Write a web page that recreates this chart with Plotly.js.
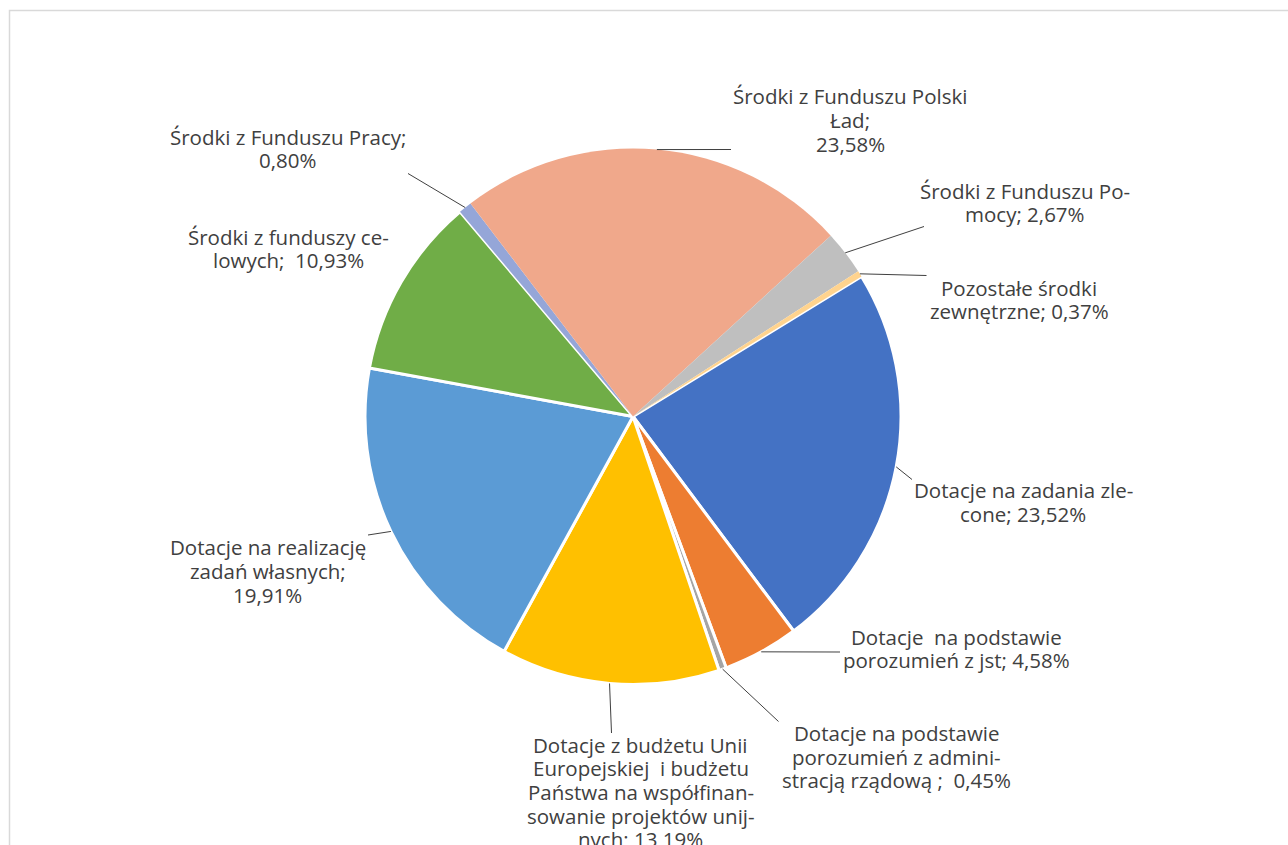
<!DOCTYPE html>
<html>
<head>
<meta charset="utf-8">
<script src="https://cdn.plot.ly/plotly-3.0.1.min.js"></script>
<style>html,body{margin:0;padding:0;background:#fff;}#chart{width:1288px;height:845px;}</style>
</head>
<body>
<div id="chart"></div>
<script>
// ---- data ----
const categories = [
  "Dotacje na zadania zlecone",
  "Dotacje na podstawie porozumień z jst",
  "Dotacje na podstawie porozumień z administracją rządową",
  "Dotacje z budżetu Unii Europejskiej i budżetu Państwa na współfinansowanie projektów unijnych",
  "Dotacje na realizację zadań własnych",
  "Środki z funduszy celowych",
  "Środki z Funduszu Pracy",
  "Środki z Funduszu Polski Ład",
  "Środki z Funduszu Pomocy",
  "Pozostałe środki zewnętrzne"
];
const shares = [23.52, 4.58, 0.45, 13.19, 19.91, 10.93, 0.80, 23.58, 2.67, 0.37];
// label text as printed in the chart ({v} = value)
const labelTemplates = [
  "Dotacje na zadania zle-<br>cone; {v}",
  "Dotacje \u00a0na podstawie<br>porozumień z jst; {v}",
  "Dotacje na podstawie<br>porozumień z admini-<br>stracją rządową ; \u00a0{v}",
  "Dotacje z budżetu Unii<br>Europejskiej \u00a0i budżetu<br>Państwa na współfinan-<br>sowanie projektów unij-<br>nych; {v}",
  "Dotacje na realizację<br>zadań własnych;<br>{v}",
  "Środki z funduszy ce-<br>lowych; \u00a0{v}",
  "Środki z Funduszu Pracy;<br>{v}",
  "Środki z Funduszu Polski<br>Ład;<br>{v}",
  "Środki z Funduszu Po-<br>mocy; {v}",
  "Pozostałe środki<br>zewnętrzne; {v}"
];

// ---- styles / layout ----
const W = 1288, H = 845;
const colors = ["#4472C4","#ED7D31","#A5A5A5","#FFC000","#5B9BD5","#70AD47","#95A6D8","#F0A88B","#BFBFBF","#FFD38E"];
const borderW = [3,3,3,3,3,3,0,0,0,0];
const CX = 633, CY = 416.5, R = 268, ROT = 58.5;
const FONT = {family: '"Open Sans", "Noto Sans", sans-serif', size: 20.5, color: '#404040'};
const LINE_H = 23.6;
// label centre (px) and leader-line end (px, null = no line)
const labelPos = [
  [1023.5, 502, [912, 479.5]],
  [956.5, 648.5, [840, 652]],
  [896, 756.5, [778.5, 721.5]],
  [640.5, 792, [611.5, 733]],
  [267.5, 571, [368, 535]],
  [288, 248.5, null],
  [287.5, 148.5, [408, 173.5]],
  [850, 120, [731, 149.5]],
  [1025, 202.5, [924, 226.5]],
  [1019, 299.5, [926.5, 275.5]]
];

const px2x = p => p / W;
const px2y = p => 1 - p / H;
const fmt = v => v.toFixed(2).replace('.', ',') + '%';

const total = shares.reduce((a, b) => a + b, 0);
let cum = 0;
const annotations = [];
const shapes = [];
shares.forEach((v, i) => {
  const mid = (ROT + (cum + v / 2) / total * 360) * Math.PI / 180;
  cum += v;
  const ax = CX + R * Math.sin(mid);
  const ay = CY - R * Math.cos(mid);
  const lp = labelPos[i];
  const lines = labelTemplates[i].replace('{v}', fmt(v)).split('<br>');
  const n = lines.length;
  lines.forEach((ln, k) => {
    annotations.push({
      xref: 'paper', yref: 'paper', x: px2x(lp[0]), y: px2y(lp[1] + (k - (n - 1) / 2) * LINE_H),
      xanchor: 'center', yanchor: 'middle', align: 'center', showarrow: false,
      text: ln, font: FONT
    });
  });
  if (lp[2]) {
    shapes.push({
      type: 'line', xref: 'paper', yref: 'paper',
      x0: px2x(ax), y0: px2y(ay), x1: px2x(lp[2][0]), y1: px2y(lp[2][1]),
      line: {color: '#404040', width: 1}
    });
  }
});
// chart-area frame
shapes.push({type: 'rect', xref: 'paper', yref: 'paper', layer: 'below',
  x0: px2x(9.5), y0: -0.2, x1: 1.2, y1: px2y(10.5),
  line: {color: '#D9D9D9', width: 1.5}, fillcolor: 'rgba(0,0,0,0)'});

const trace = {
  type: 'pie',
  labels: categories,
  values: shares,
  sort: false,
  direction: 'clockwise',
  rotation: ROT,
  textinfo: 'none',
  textposition: 'none',
  hoverinfo: 'label+percent',
  marker: {colors: colors, line: {color: '#FFFFFF', width: borderW}},
  domain: {x: [px2x(CX - R), px2x(CX + R)], y: [px2y(CY + R), px2y(CY - R)]},
  showlegend: false
};

Plotly.newPlot('chart', [trace], {
  width: W, height: H,
  margin: {l: 0, r: 0, t: 0, b: 0},
  paper_bgcolor: '#FFFFFF',
  showlegend: false,
  annotations: annotations,
  shapes: shapes
}, {displayModeBar: false, staticPlot: true});
</script>
</body>
</html>
